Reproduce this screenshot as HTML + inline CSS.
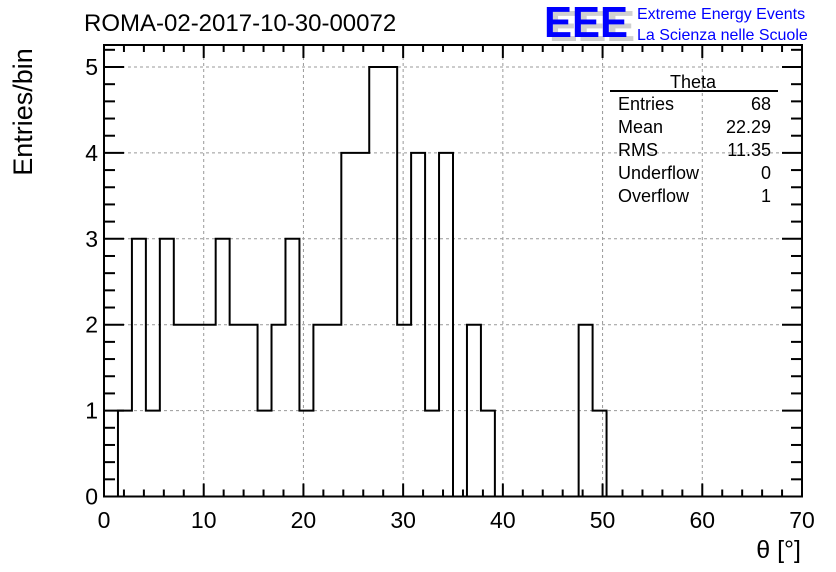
<!DOCTYPE html>
<html><head><meta charset="utf-8"><style>
html,body{margin:0;padding:0;background:#fff;}
svg{display:block;font-family:"Liberation Sans",Arial,sans-serif;}
</style></head><body>
<svg id="chart" width="836" height="572" viewBox="0 0 836 572" xmlns="http://www.w3.org/2000/svg">
<rect x="0" y="0" width="836" height="572" fill="#fff"/>
<g id="grid"></g>
<g id="hist"></g>
<g id="axes"></g>
<text x="84" y="31" font-size="24" fill="#000">ROMA-02-2017-10-30-00072</text>
<text transform="translate(32,112) rotate(-90)" text-anchor="middle" font-size="27" fill="#000">Entries/bin</text>
<text x="801" y="558" text-anchor="end" font-size="25" fill="#000">θ [°]</text>
<g>
<text x="549" y="41" font-size="44" font-weight="bold" fill="#d0d0d0" textLength="86" lengthAdjust="spacingAndGlyphs">EEE</text>
<text x="544" y="37" font-size="44" font-weight="bold" fill="#0000ff" textLength="84" lengthAdjust="spacingAndGlyphs">EEE</text>
<text x="637" y="19" font-size="16" fill="#0000ff">Extreme Energy Events</text>
<text x="637" y="40" font-size="16" fill="#0000ff">La Scienza nelle Scuole</text>
</g>
<g font-size="18" fill="#000">
<text x="693" y="88" text-anchor="middle">Theta</text>
<line x1="610" y1="91" x2="778" y2="91" stroke="#000" stroke-width="2"/>
<text x="618" y="110">Entries</text><text x="771" y="110" text-anchor="end">68</text>
<text x="618" y="133">Mean</text><text x="771" y="133" text-anchor="end">22.29</text>
<text x="618" y="156">RMS</text><text x="771" y="156" text-anchor="end">11.35</text>
<text x="618" y="179">Underflow</text><text x="771" y="179" text-anchor="end">0</text>
<text x="618" y="202">Overflow</text><text x="771" y="202" text-anchor="end">1</text>
</g>
</svg>
<script>
const counts = [0,1,3,1,3,2,2,2,3,2,2,1,2,3,1,2,2,4,4,5,5,2,4,1,4,0,2,1,0,0,0,0,0,0,2,1,0,0,0,0,0,0,0,0,0,0,0,0,0,0];
const xTicks = [0,10,20,30,40,50,60,70];
const yTicks = [0,1,2,3,4,5];
const binWidth = 1.4;
const X0=104,X1=802,Y0=496.5,YT=45;
const xmin=0,xmax=70,ymin=0,ymax=5;
const sx=v=>X0+(v-xmin)/(xmax-xmin)*(X1-X0);
const sy=v=>Y0-(v-ymin)/(ymax-ymin)*(Y0-67);
const NS="http://www.w3.org/2000/svg";
function mk(tag,attrs,parent){const e=document.createElementNS(NS,tag);for(const k in attrs)e.setAttribute(k,attrs[k]);parent.appendChild(e);return e;}
const grid=document.getElementById('grid'),axes=document.getElementById('axes'),hist=document.getElementById('hist');
xTicks.forEach(t=>{if(t>xmin&&t<xmax){const l=mk('line',{x1:sx(t),x2:sx(t),y1:YT,y2:Y0,stroke:'#999','stroke-width':1,'stroke-dasharray':'3,3'},grid);

}});
yTicks.forEach(t=>{if(t>ymin){const l=mk('line',{x1:X0,x2:X1,y1:sy(t),y2:sy(t),stroke:'#999','stroke-width':1,'stroke-dasharray':'3,3'},grid);

}});
let d='M'+sx(0)+','+sy(0);
counts.forEach((c,i)=>{const xa=sx(i*binWidth),xb=sx((i+1)*binWidth);d+=' L'+xa+','+sy(c)+' L'+xb+','+sy(c);});
d+=' L'+sx(counts.length*binWidth)+','+sy(0);
const p=mk('path',{d:d,fill:'none',stroke:'#000','stroke-width':2},hist);


const fr=mk('rect',{x:X0,y:YT,width:X1-X0,height:Y0-YT,fill:'none',stroke:'#000','stroke-width':2},axes);


for(let v=xmin;v<=xmax;v+=2){const maj=v%10===0;const h=maj?13:7;
mk('line',{x1:sx(v),x2:sx(v),y1:Y0,y2:Y0-h,stroke:'#000','stroke-width':2},axes);
mk('line',{x1:sx(v),x2:sx(v),y1:YT,y2:YT+h,stroke:'#000','stroke-width':2},axes);}
for(let v=0;v<=ymax+0.25+1e-9;v+=0.2){const r=Math.round(v*5)/5;const maj=Math.abs(r-Math.round(r))<1e-6;const w=maj?20:11;
mk('line',{x1:X0,x2:X0+w,y1:sy(r),y2:sy(r),stroke:'#000','stroke-width':2},axes);
mk('line',{x1:X1,x2:X1-w,y1:sy(r),y2:sy(r),stroke:'#000','stroke-width':2},axes);}
xTicks.forEach(t=>{const e=mk('text',{x:sx(t),y:528,'text-anchor':'middle','font-size':23},axes);e.textContent=t;

});
yTicks.forEach(t=>{const e=mk('text',{x:98,y:sy(t)+8,'text-anchor':'end','font-size':23},axes);e.textContent=t;

});
</script>
</body></html>
